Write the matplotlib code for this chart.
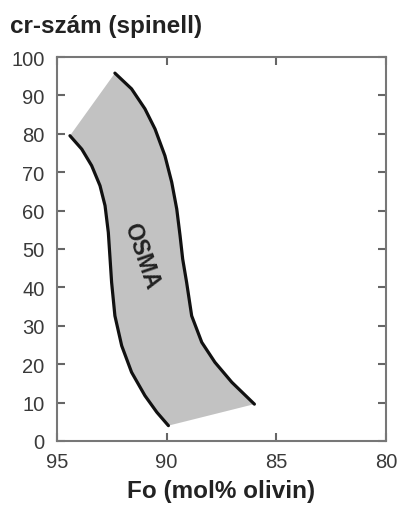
import matplotlib
matplotlib.use("Agg")
import matplotlib.pyplot as plt

plt.rcParams["font.family"] = ["Liberation Sans", "DejaVu Sans"]

# high-Fo boundary of the OSMA band (Fo, cr#)
left_fo = [94.41, 93.87, 93.42, 93.04, 92.81, 92.66, 92.58, 92.51, 92.36,
           92.05, 91.6, 90.99, 90.45, 89.92]
left_cr = [79.5, 76, 71.7, 66.5, 61.3, 54.3, 47.4, 41.3, 32.6,
           24.8, 17.9, 11.8, 7.5, 4]

# low-Fo boundary
right_fo = [92.36, 91.6, 90.99, 90.53, 90.08, 89.77, 89.54, 89.39, 89.27,
            89.09, 88.86, 88.4, 87.8, 87.03, 86.0]
right_cr = [95.8, 91.7, 86.5, 81.25, 74.3, 67.4, 60.4, 53.5, 47.4,
            41.3, 32.6, 25.7, 20.5, 15.3, 9.6]

xticks = [95, 90, 85, 80]
yticks = list(range(0, 101, 10))

fig = plt.figure(figsize=(4.0, 5.06), dpi=100)
ax = fig.add_axes([57 / 400, 1 - 442 / 506, 329 / 400, 384 / 506])

poly_x = left_fo + right_fo[::-1]
poly_y = left_cr + right_cr[::-1]
ax.fill(poly_x, poly_y, color="#c2c2c2", lw=0, zorder=1)
for xs, ys in [(left_fo, left_cr), (right_fo, right_cr)]:
    ax.plot(xs, ys, color="#111111", lw=2.3, solid_capstyle="round",
            solid_joinstyle="round", zorder=2)

ax.text(91.14, 48.3, "OSMA", rotation=-71, ha="center", va="center",
        fontsize=16.5, fontweight="bold", color="#222222")

ax.set_xlim(95, 80)
ax.set_ylim(0, 100)
ax.set_xticks(xticks)
ax.set_yticks(yticks)
ax.tick_params(direction="in", length=6, width=1.5, color="#666666",
               labelsize=14.5, labelcolor="#3a3a3a", top=True, right=True)
ax.tick_params(axis="y", pad=9)
ax.tick_params(axis="x", pad=8)
for s in ax.spines.values():
    s.set_color("#777777")
    s.set_linewidth(1.5)

ax.set_xlabel("Fo (mol% olivin)", fontsize=17.5, fontweight="bold",
              color="#222222", labelpad=6)
fig.text(10 / 400, 1 - 26 / 506, "cr-szám (spinell)", fontsize=17.5,
         fontweight="bold", color="#222222", ha="left", va="center")

fig.savefig("out.png", dpi=100)
